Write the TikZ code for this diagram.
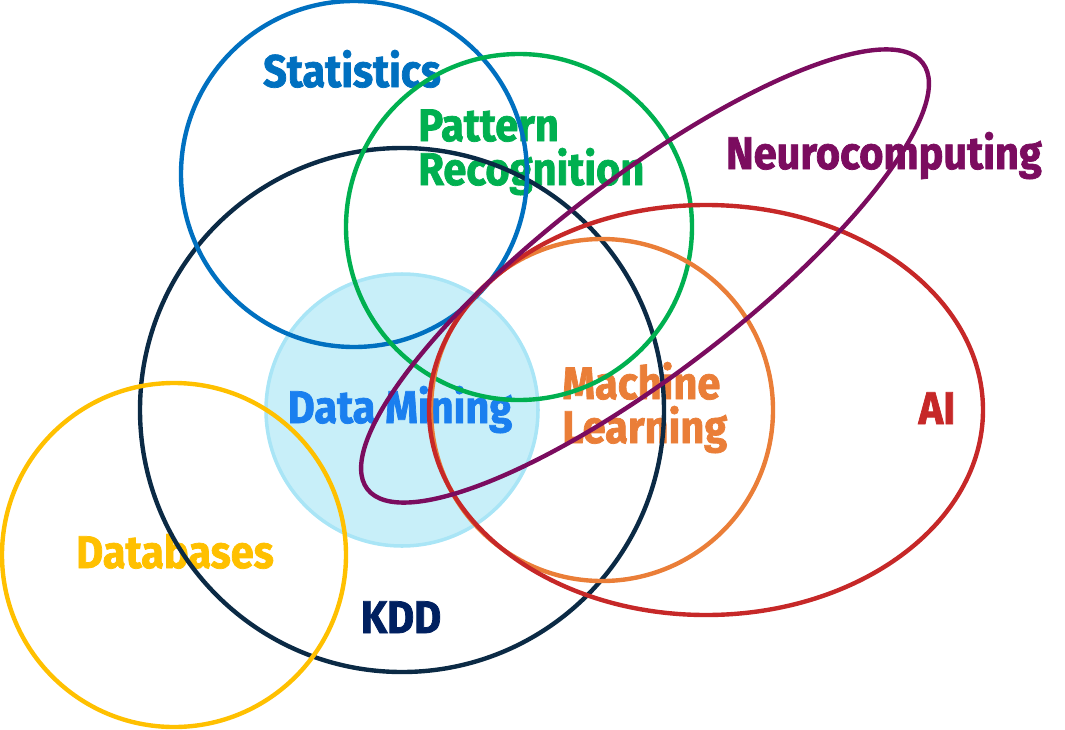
\documentclass[tikz,border=0pt]{standalone}
\usepackage{fontspec}
\usepackage{tkz-euclide}
\newfontfamily\vennfont{Fira Sans}[FakeStretch=0.91,FakeBold=1.6]
\definecolor{statblue}{HTML}{0070C0}
\definecolor{patgreen}{HTML}{00B050}
\definecolor{neuropurple}{HTML}{7B0C5F}
\definecolor{aired}{HTML}{C62828}
\definecolor{mlorange}{HTML}{EA7E38}
\definecolor{dmblue}{HTML}{1A7FEF}
\definecolor{dmfill}{HTML}{C8EFF9}
\definecolor{dmline}{HTML}{A9E5F6}
\definecolor{kddnavy}{HTML}{0B2A45}
\definecolor{kddtext}{HTML}{002060}
\definecolor{dbyellow}{HTML}{FFC000}
\tikzset{set/.style={line width=2.5pt},
  lbl/.style={font=\vennfont\bfseries\fontsize{26}{25}\selectfont,inner sep=0pt,align=left}}

\begin{document}
\begin{tikzpicture}[x=0.02cm,y=-0.02cm]
  \useasboundingbox (0,0) rectangle (1065,730);
  \tkzDefPoint(354,174){S}
  \tkzDefPoint(519,227){P}
  \tkzDefPoint(402,410){K}
  \tkzDefPoint(402,410){D}
  \tkzDefPoint(174,555){B}
  \tkzDefPoint(602,410){M}
  \tkzDefPoint(706,410){A}
  \tkzDefPoint(645,276){N}
  \fill[dmfill,draw=dmline,line width=2pt] (D) circle[radius=136];
  \node[lbl,statblue,anchor=base] (stat) at (352,87) {Statistics};
  \node[lbl,patgreen,anchor=base west] (pat) at (418,185) {Pattern\\Recognition};
  \node[lbl,neuropurple,anchor=base] (neuro) at (884,169) {Neurocomputing};
  \node[lbl,dmblue,anchor=base] (dm) at (400,423) {Data Mining};
  \node[lbl,mlorange,anchor=base west] (ml) at (562,443) {Machine\\Learning};
  \node[lbl,aired,anchor=base] (ai) at (937,424) {AI};
  \node[lbl,dbyellow,anchor=base] (db) at (175,568) {Databases};
  \node[lbl,kddtext,anchor=base] (kdd) at (401,633) {KDD};
  \draw[set,kddnavy] (K) circle[radius=262];
  \draw[set,dbyellow] (B) circle[radius=172];
  \draw[set,statblue] (S) circle[radius=173];
  \draw[set,patgreen] (P) circle[radius=173];
  \draw[set,mlorange] (M) circle[radius=171];
  \draw[set,aired] (A) ellipse[x radius=277,y radius=205];
  \draw[set,neuropurple,rotate around={37.5:(N)}] (N) ellipse[x radius=350,y radius=97];
\end{tikzpicture}
\end{document}
